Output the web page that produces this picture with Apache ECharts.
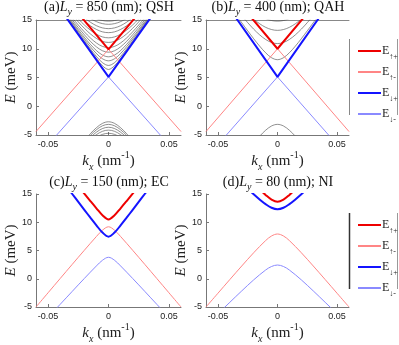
<!DOCTYPE html>
<html>
<head>
<meta charset="utf-8">
<script src="https://cdn.jsdelivr.net/npm/echarts@6/dist/echarts.min.js"></script>
<style>html,body{margin:0;padding:0;background:#fff}#chart{width:399px;height:345px}</style>
</head>
<body>
<div id="chart"></div>
<script>
var kTicks = [-0.05, 0, 0.05];
var eTicks = [-5, 0, 5, 10, 15];
var legendNames = ['E↑+', 'E↑-', 'E↓+', 'E↓-'];
var panelLabels = ['(a)', '(b)', '(c)', '(d)'];
var panelLy = ['850', '400', '150', '80'];
var panelPhase = ['QSH', 'QAH', 'EC', 'NI'];

// half grids of k (nm^-1), curves are mirrored to negative k
var kBulk = [0, 0.005, 0.01, 0.015, 0.02, 0.025, 0.03, 0.035];
var kHump = [0, 0.005, 0.01, 0.02, 0.03, 0.04, 0.05, 0.06];

// (a) Ly = 850 nm, edge states (k, E)
var aUpPlus = [[-0.03, 17.4], [0, 9.9], [0.03, 17.4]];
var aUpMinus = [[-0.06, -4.4], [0, 9.9], [0.06, -4.4]];
var aDnPlus = [[-0.04, 16.9], [0, 5.1], [0.04, 16.9]];
var aDnMinus = [[-0.045, -5.5], [0, 5.1], [0.045, -5.5]];
// (a) bulk subbands on kBulk
var aBulkHigh = [
    [6.4, 7.05, 8.31, 9.71, 11.16, 12.63, 14.11, 15.59],
    [7.1, 7.58, 8.66, 9.97, 11.36, 12.79, 14.24, 15.71],
    [7.9, 8.26, 9.17, 10.35, 11.66, 13.04, 14.46, 15.89],
    [8.6, 8.9, 9.69, 10.76, 12.0, 13.32, 14.69, 16.1],
    [9.4, 9.65, 10.33, 11.29, 12.44, 13.7, 15.02, 16.5],
    [10.2, 10.41, 11.0, 11.88, 12.94, 14.13, 15.39, 16.8],
    [11.1, 11.28, 11.8, 12.58, 13.56, 14.67, 16.0, 17.3],
    [11.9, 12.06, 12.52, 13.24, 14.14, 15.19, 16.4, 17.7],
    [12.8, 12.94, 13.36, 14.0, 14.84, 15.9, 17.0, 18.1],
    [13.5, 13.63, 14.01, 14.62, 15.4, 16.4, 17.5, 18.6],
    [14.25, 14.37, 14.72, 15.29, 16.2, 17.2, 18.3, 19.4],
    [14.8, 14.91, 15.25, 15.9, 16.7, 17.7, 18.8, 19.9]
];
var aBulkLow = [
    [-2.7, -2.98, -3.73, -4.77, -5.98],
    [-3.15, -3.4, -4.09, -5.07, -6.2],
    [-3.65, -3.88, -4.51, -5.43, -6.6],
    [-4.15, -4.36, -4.94, -5.8, -7.0],
    [-4.7, -4.89, -5.42, -6.2, -7.4]
];

// (b) Ly = 400 nm
var bUpPlus = [[-0.03, 17.4], [0, 10.0], [0.03, 17.4]];
var bUpMinus = [[-0.06, -4.4], [0, 10.0], [0.06, -4.4]];
var bDnPlus = [[-0.04, 16.9], [0, 5.1], [0.04, 16.9]];
var bDnMinus = [[-0.045, -5.5], [0, 5.1], [0.045, -5.5]];
var bBulkHigh = [
    [8.1, 8.44, 9.31, 10.46, 11.75, 13.12, 14.52, 15.95],
    [10.9, 11.09, 11.62, 12.42, 13.41, 14.54, 15.76, 17.1],
    [13.2, 13.34, 13.73, 14.35, 15.16, 16.2, 17.3, 18.5],
    [14.8, 14.91, 15.25, 15.9, 16.7, 17.7, 18.8, 19.9]
];
var bBulkLow = [
    [-3.15, -3.43, -4.18, -5.22, -6.43]
];

// (c) Ly = 150 nm
var cUpPlus = [10.5, 11.25, 12.47, 13.75, 15.06, 16.4];            // on kBulk
var cUpMinus = [9.2, 8.59, 7.48, 5.04, 2.55, 0.04, -2.48, -5.0];    // on kHump
var cDnPlus = [7.45, 8.18, 9.45, 10.81, 12.2, 13.6, 15.0, 16.4];    // on kBulk
var cDnMinus = [3.8, 3.27, 2.27, 0.05, -2.23, -4.53, -6.8, -9.1];   // on kHump

// (d) Ly = 80 nm
var dUpPlus = [13.64, 14.02, 14.84, 15.83];                          // on kBulk
var dUpMinus = [7.92, 7.57, 6.75, 4.6, 2.26, -0.14, -2.57, -5.0];   // on kHump
var dDnPlus = [12.3, 12.56, 13.2, 14.03, 14.95, 15.92];              // on kBulk
var dDnMinus = [2.43, 2.17, 1.54, -0.2, -2.15, -4.17, -6.2, -8.3];  // on kHump

var myChart = echarts.init(document.getElementById('chart'));

function sym(ks, es) {
    var pts = [];
    for (var i = es.length - 1; i > 0; i--) pts.push([-ks[i], es[i]]);
    for (i = 0; i < es.length; i++) pts.push([ks[i], es[i]]);
    return pts;
}

var styleUpPlus = {color: '#ee0000', width: 2};
var styleUpMinus = {color: '#ff8585', width: 1};
var styleDnPlus = {color: '#1414ff', width: 2};
var styleDnMinus = {color: '#8a8aff', width: 1};
var styleBulk = {color: '#444', width: 0.6};

function line(name, idx, data, style, smooth) {
    return {
        name: name,
        type: 'line',
        xAxisIndex: idx,
        yAxisIndex: idx,
        data: data,
        symbol: 'none',
        smooth: smooth ? 0.35 : false,
        clip: true,
        color: style.color,
        lineStyle: {color: style.color, width: style.width},
        emphasis: {disabled: true}
    };
}

var series = [];
aBulkHigh.forEach(function (e) { series.push(line('', 0, sym(kBulk, e), styleBulk, true)); });
aBulkLow.forEach(function (e) { series.push(line('', 0, sym(kBulk, e), styleBulk, true)); });
bBulkHigh.forEach(function (e) { series.push(line('', 1, sym(kBulk, e), styleBulk, true)); });
bBulkLow.forEach(function (e) { series.push(line('', 1, sym(kBulk, e), styleBulk, true)); });

series.push(line('E↑-', 0, aUpMinus, styleUpMinus));
series.push(line('E↓-', 0, aDnMinus, styleDnMinus));
series.push(line('E↑+', 0, aUpPlus, styleUpPlus));
series.push(line('E↓+', 0, aDnPlus, styleDnPlus));

series.push(line('E↑-', 1, bUpMinus, styleUpMinus));
series.push(line('E↓-', 1, bDnMinus, styleDnMinus));
series.push(line('E↑+', 1, bUpPlus, styleUpPlus));
series.push(line('E↓+', 1, bDnPlus, styleDnPlus));

series.push(line('E↑-', 2, sym(kHump, cUpMinus), styleUpMinus, true));
series.push(line('E↓-', 2, sym(kHump, cDnMinus), styleDnMinus, true));
series.push(line('E↑+', 2, sym(kBulk, cUpPlus), styleUpPlus, true));
series.push(line('E↓+', 2, sym(kBulk, cDnPlus), styleDnPlus, true));

series.push(line('E↑-', 3, sym(kHump, dUpMinus), styleUpMinus, true));
series.push(line('E↓-', 3, sym(kHump, dDnMinus), styleDnMinus, true));
series.push(line('E↑+', 3, sym(kBulk, dUpPlus), styleUpPlus, true));
series.push(line('E↓+', 3, sym(kBulk, dDnPlus), styleDnPlus, true));

var grids = [
    {left: 36, top: 20, width: 145, height: 115},
    {left: 206, top: 20, width: 143, height: 115},
    {left: 36, top: 194, width: 145, height: 113},
    {left: 206, top: 194, width: 143, height: 113}
];

var serif = 'Liberation Serif';
var axisGray = '#777';

var xAxes = grids.map(function (g, i) {
    return {
        gridIndex: i, type: 'value', min: -0.06, max: 0.06,
        axisLine: {show: true, onZero: false, lineStyle: {color: axisGray, width: 1}},
        axisTick: {show: true, inside: true, length: 3, customValues: kTicks, lineStyle: {color: axisGray}},
        axisLabel: {customValues: kTicks, fontSize: 9, color: '#222', fontFamily: 'Liberation Sans', margin: 5,
            formatter: function (v) { return String(v); }},
        splitLine: {show: false},
        name: '{i|k}{s|x} (nm{p|-1})',
        nameLocation: 'middle', nameGap: 13,
        nameTextStyle: {fontFamily: serif, fontSize: 15, color: '#222',
            rich: {i: {fontStyle: 'italic', fontSize: 15, fontFamily: serif},
                   s: {fontStyle: 'italic', fontSize: 10, fontFamily: serif, verticalAlign: 'bottom', lineHeight: 22},
                   p: {fontSize: 10, fontFamily: serif, verticalAlign: 'top', lineHeight: 22}}}
    };
});
// top frame line of the upper panels
[0, 1].forEach(function (i) {
    xAxes.push({gridIndex: i, type: 'value', min: -0.06, max: 0.06, position: 'top',
        axisLine: {show: true, onZero: false, lineStyle: {color: '#888', width: 1}},
        axisTick: {show: false}, axisLabel: {show: false}, splitLine: {show: false}});
});

var yAxes = grids.map(function (g, i) {
    return {
        gridIndex: i, type: 'value', min: -5, max: 15, interval: 5,
        axisLine: {show: true, onZero: false, lineStyle: {color: axisGray, width: 1}},
        axisTick: {show: true, inside: true, length: 3, lineStyle: {color: axisGray}},
        axisLabel: {fontSize: 9, color: '#222', fontFamily: 'Liberation Sans', margin: 4},
        splitLine: {show: false},
        name: '{i|E} (meV)',
        nameLocation: 'middle', nameGap: 16, nameRotate: 90,
        nameTextStyle: {fontFamily: serif, fontSize: 15, color: '#222',
            rich: {i: {fontStyle: 'italic', fontSize: 15, fontFamily: serif}}}
    };
});

var titleCenters = [[109, -3], [278, -3], [109, 172], [278, 172]];
var graphics = titleCenters.map(function (c, i) {
    return {
        type: 'text', x: c[0], y: c[1], silent: true, z: 100,
        style: {
            text: panelLabels[i] + '{i|L}{s|y} = ' + panelLy[i] + ' (nm); ' + panelPhase[i],
            fontFamily: serif, fontSize: 14, fill: '#111',
            align: 'center', textAlign: 'center',
            rich: {i: {fontStyle: 'italic', fontSize: 14, fontFamily: serif, fill: '#111', lineHeight: 20},
                   s: {fontStyle: 'italic', fontSize: 10, fontFamily: serif, fill: '#111', verticalAlign: 'bottom', lineHeight: 20}}
        }
    };
});
// legend box sides
[[39, 115], [213, 289]].forEach(function (r, i) {
    graphics.push({type: 'line', silent: true, shape: {x1: 349.5, y1: r[0], x2: 349.5, y2: r[1]},
        style: {stroke: i ? '#333' : '#888', lineWidth: i ? 1.5 : 1}});
    graphics.push({type: 'line', silent: true, shape: {x1: 397.5, y1: r[0], x2: 397.5, y2: r[1]},
        style: {stroke: '#999', lineWidth: 1}});
});

var legends = [40, 214].map(function (top) {
    return {
        data: legendNames, orient: 'vertical', left: 352, top: top,
        itemWidth: 23, itemHeight: 14, itemGap: 5, selectedMode: false,
        itemStyle: {opacity: 0, borderWidth: 0},
        textStyle: {fontFamily: serif, fontSize: 12, color: '#222', padding: [0, 0, 0, -4],
            rich: {s: {fontSize: 8, fontFamily: serif, color: '#222', verticalAlign: 'bottom', lineHeight: 20}}},
        formatter: function (n) { return 'E{s|' + n.slice(1) + '}'; }
    };
});

option = {
    animation: false,
    backgroundColor: '#fff',
    grid: grids,
    xAxis: xAxes,
    yAxis: yAxes,
    legend: legends,
    graphic: graphics,
    series: series
};
myChart.setOption(option);
</script>
</body>
</html>
